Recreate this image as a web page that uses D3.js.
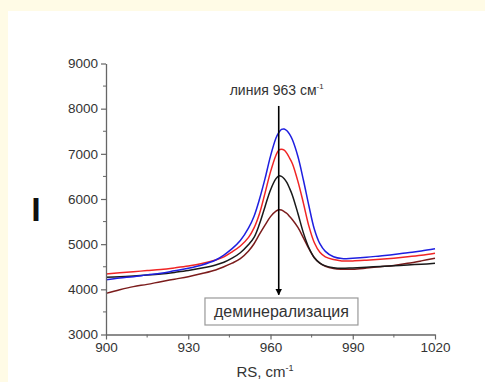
<!DOCTYPE html>
<html>
<head>
<meta charset="utf-8">
<script src="https://cdn.jsdelivr.net/npm/d3@7"></script>
<style>
  html, body { margin: 0; padding: 0; background: #fffbe6; }
  svg { display: block; }
  text { font-family: "Liberation Sans", Arial, sans-serif; fill: #333; }
</style>
</head>
<body>
<svg id="chart"></svg>
<script>
// wavenumbers (cm-1) shared by all spectra
const rs = [900, 905, 910, 915, 920, 925, 930, 935, 940, 943, 946, 949, 952, 954, 956, 958, 960, 962, 963,
  964, 965, 966, 967, 968, 970, 972, 974, 976, 978, 980, 983, 986, 990, 995, 1000, 1005, 1010, 1015, 1020];

const blueI = [4210, 4250, 4280, 4320, 4355, 4410, 4465, 4540, 4650, 4760, 4900, 5080, 5360, 5620, 6000, 6450, 6950, 7350, 7470,
  7540, 7550, 7510, 7430, 7310, 6940, 6420, 5850, 5330, 5010, 4840, 4720, 4680, 4690, 4710, 4740, 4770, 4810, 4850, 4900];
const redI = [4340, 4365, 4390, 4415, 4440, 4475, 4515, 4570, 4650, 4720, 4830, 4960, 5150, 5360, 5680, 6130, 6600, 6970, 7080,
  7100, 7080, 7010, 6900, 6780, 6390, 5910, 5400, 5030, 4820, 4720, 4660, 4630, 4630, 4645, 4665, 4690, 4720, 4755, 4800];
const blackI = [4265, 4280, 4295, 4315, 4340, 4375, 4415, 4470, 4540, 4600, 4690, 4810, 4990, 5150, 5450, 5830, 6200, 6450, 6510,
  6500, 6450, 6360, 6230, 6080, 5680, 5250, 4920, 4700, 4580, 4520, 4480, 4465, 4475, 4490, 4505, 4520, 4540, 4555, 4575];
const brownI = [3910, 3990, 4060, 4110, 4170, 4225, 4280, 4350, 4430, 4500, 4580, 4680, 4850, 5010, 5220, 5420, 5610, 5730, 5760,
  5755, 5720, 5680, 5610, 5540, 5370, 5140, 4900, 4700, 4580, 4510, 4460, 4445, 4445, 4470, 4500, 4530, 4575, 4630, 4690];

const seriesNames = ["brown", "black", "red", "blue"];
const seriesColors = ["#7b1c1c", "#1a1a1a", "#f02525", "#1f1fe0"];
const seriesValues = [brownI, blackI, redI, blueI];

const xTicks = [900, 930, 960, 990, 1020];
const xMinor = [915, 945, 975, 1005];
const yTicks = [3000, 4000, 5000, 6000, 7000, 8000, 9000];
const yMinor = [3500, 4500, 5500, 6500, 7500, 8500];

const lineLabel = "линия 963 см";
const boxLabel = "деминерализация";
const arrowX = 963;
const arrowTop = 8060;
const arrowBottom = 3880;

const width = 485, height = 382;
const marginTop = 63.5, marginRight = 50, marginBottom = 47.5, marginLeft = 106;

const svg = d3.select("#chart").attr("width", width).attr("height", height);

// white panel over cream page
svg.append("rect").attr("x", 8).attr("y", 11).attr("width", width - 8).attr("height", height - 11).attr("fill", "#fff");

const x = d3.scaleLinear().domain([900, 1020]).range([marginLeft, width - marginRight]);
const y = d3.scaleLinear().domain([3000, 9000]).range([height - marginBottom, marginTop]);

// curves
const line = d3.line().x(d => x(d[0])).y(d => y(d[1])).curve(d3.curveCatmullRom);
seriesValues.forEach((vals, i) => {
  svg.append("path")
    .datum(rs.map((r, j) => [r, vals[j]]))
    .attr("class", "spectrum " + seriesNames[i])
    .attr("fill", "none")
    .attr("stroke", seriesColors[i])
    .attr("stroke-width", 1.5)
    .attr("d", line);
});

// axes
const axisColor = "#666";
const gx = svg.append("g").attr("transform", `translate(0,${height - marginBottom})`);
gx.call(d3.axisBottom(x).tickValues(xTicks).tickFormat(d3.format("d")).tickSize(5).tickSizeOuter(0).tickPadding(3));
gx.selectAll(".minor").data(xMinor).join("line").attr("class", "minor")
  .attr("x1", d => x(d)).attr("x2", d => x(d)).attr("y1", 0).attr("y2", 3).attr("stroke", axisColor);

const gy = svg.append("g").attr("transform", `translate(${marginLeft},0)`);
gy.call(d3.axisLeft(y).tickValues(yTicks).tickFormat(d3.format("d")).tickSize(5).tickSizeOuter(0).tickPadding(3));
gy.selectAll(".minor").data(yMinor).join("line").attr("class", "minor")
  .attr("y1", d => y(d)).attr("y2", d => y(d)).attr("x1", 0).attr("x2", -3).attr("stroke", axisColor);

[gx, gy].forEach(g => {
  g.select(".domain").attr("stroke", axisColor).attr("stroke-width", 1.3);
  g.selectAll(".tick line").attr("stroke", axisColor).attr("stroke-width", 1.2);
  g.selectAll(".tick text").attr("fill", "#333").style("font-size", "13.5px")
    .style("font-family", "'Liberation Sans', Arial, sans-serif");
});

// axis titles
svg.append("text").attr("x", 36).attr("y", 221).attr("text-anchor", "middle")
  .style("font-size", "34px").style("font-weight", "bold").style("fill", "#111").text("I");
const xt = svg.append("text").attr("x", x(958)).attr("y", 377).attr("text-anchor", "middle").style("font-size", "15px");
xt.append("tspan").text("RS, cm");
xt.append("tspan").attr("dy", -6).style("font-size", "9px").text("-1");

// arrow
svg.append("defs").append("marker").attr("id", "head")
  .attr("viewBox", "0 0 10 10").attr("refX", 9).attr("refY", 5)
  .attr("markerWidth", 4).attr("markerHeight", 5).attr("orient", "auto")
  .append("path").attr("d", "M0,0L10,5L0,10z").attr("fill", "#000");
svg.append("line")
  .attr("x1", x(arrowX)).attr("x2", x(arrowX))
  .attr("y1", y(arrowTop)).attr("y2", y(arrowBottom))
  .attr("stroke", "#000").attr("stroke-width", 1.6)
  .attr("marker-end", "url(#head)");

// top label
const lt = svg.append("text").attr("x", x(arrowX) - 2).attr("y", 95).attr("text-anchor", "middle").style("font-size", "14px");
lt.append("tspan").text(lineLabel);
lt.append("tspan").attr("dy", -6).style("font-size", "8px").text("-1");

// bottom boxed label
const bx = svg.append("g");
const bt = bx.append("text").attr("x", x(964)).attr("y", 317).attr("text-anchor", "middle")
  .style("font-size", "16px").text(boxLabel);
const bb = bt.node().getBBox();
bx.insert("rect", "text")
  .attr("x", bb.x - 9).attr("y", 298).attr("width", bb.width + 18).attr("height", 27)
  .attr("fill", "#fff").attr("stroke", "#999").attr("stroke-width", 1.2);
</script>
</body>
</html>
